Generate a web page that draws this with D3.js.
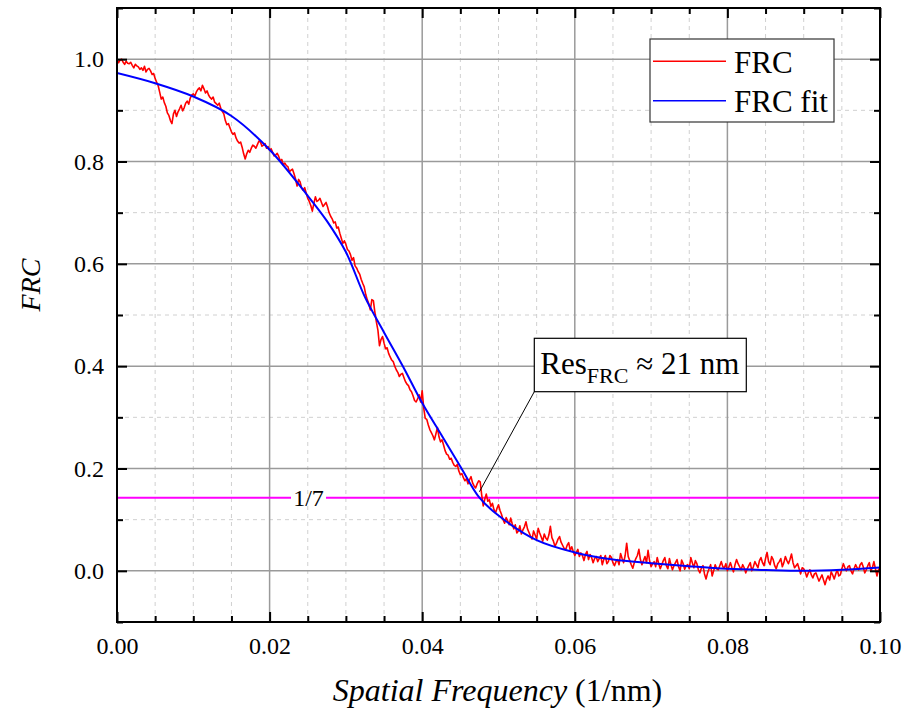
<!DOCTYPE html>
<html>
<head>
<meta charset="utf-8">
<script src="https://cdn.jsdelivr.net/npm/d3@7"></script>
<style>
  html, body { margin: 0; padding: 0; background: #fff; }
  svg { display: block; font-family: "Liberation Serif", "Times New Roman", serif; }
</style>
</head>
<body>
<svg id="chart" width="907" height="713"></svg>
<script>
// Measured FRC curve, sampled every 0.0002 nm^-1 starting at 0
const frcStart = 0;
const frcStep = 0.0002;
const frcValues = [
  1.000, 0.993, 0.998, 1.000, 0.994, 0.990, 0.996, 0.992, 0.991, 0.994,
  0.988, 0.983, 0.990, 0.987, 0.985, 0.980, 0.983, 0.978, 0.986, 0.975,
  0.980, 0.982, 0.977, 0.970, 0.972, 0.962, 0.955, 0.948, 0.935, 0.922,
  0.926, 0.915, 0.908, 0.895, 0.890, 0.880, 0.874, 0.893, 0.900, 0.888,
  0.897, 0.903, 0.910, 0.899, 0.905, 0.914, 0.918, 0.912, 0.924, 0.930,
  0.932, 0.928, 0.936, 0.941, 0.944, 0.938, 0.949, 0.942, 0.934, 0.938,
  0.930, 0.925, 0.922, 0.926, 0.916, 0.913, 0.910, 0.914, 0.904, 0.898,
  0.893, 0.880, 0.872, 0.874, 0.866, 0.858, 0.853, 0.856, 0.846, 0.840,
  0.836, 0.838, 0.828, 0.815, 0.805, 0.815, 0.822, 0.818, 0.826, 0.832,
  0.830, 0.826, 0.833, 0.840, 0.838, 0.830, 0.832, 0.835, 0.826, 0.829,
  0.822, 0.825, 0.818, 0.811, 0.813, 0.816, 0.810, 0.801, 0.804, 0.793,
  0.797, 0.792, 0.790, 0.780, 0.783, 0.785, 0.776, 0.766, 0.752, 0.765,
  0.760, 0.748, 0.744, 0.749, 0.738, 0.728, 0.722, 0.714, 0.703, 0.718,
  0.731, 0.722, 0.724, 0.728, 0.720, 0.712, 0.716, 0.720, 0.711, 0.700,
  0.693, 0.688, 0.680, 0.682, 0.670, 0.672, 0.660, 0.650, 0.640, 0.645,
  0.638, 0.628, 0.625, 0.618, 0.607, 0.612, 0.596, 0.592, 0.585, 0.580,
  0.570, 0.562, 0.555, 0.540, 0.530, 0.522, 0.510, 0.530, 0.528, 0.505,
  0.486, 0.470, 0.440, 0.452, 0.458, 0.445, 0.434, 0.436, 0.425, 0.418,
  0.412, 0.409, 0.400, 0.393, 0.388, 0.380, 0.384, 0.386, 0.378, 0.370,
  0.365, 0.362, 0.354, 0.350, 0.342, 0.333, 0.330, 0.336, 0.344, 0.330,
  0.352, 0.318, 0.298, 0.296, 0.285, 0.276, 0.270, 0.264, 0.256, 0.268,
  0.280, 0.262, 0.252, 0.256, 0.246, 0.235, 0.228, 0.226, 0.218, 0.220,
  0.212, 0.206, 0.204, 0.208, 0.195, 0.188, 0.190, 0.182, 0.176, 0.180,
  0.170, 0.178, 0.184, 0.172, 0.166, 0.162, 0.170, 0.176, 0.174, 0.148,
  0.127, 0.140, 0.150, 0.136, 0.139, 0.126, 0.132, 0.120, 0.113, 0.122,
  0.129, 0.118, 0.110, 0.100, 0.093, 0.104, 0.098, 0.090, 0.103, 0.092,
  0.082, 0.090, 0.074, 0.078, 0.088, 0.072, 0.080, 0.086, 0.096, 0.082,
  0.075, 0.068, 0.062, 0.078, 0.070, 0.062, 0.083, 0.074, 0.066, 0.058,
  0.072, 0.064, 0.060, 0.070, 0.087, 0.065, 0.058, 0.048, 0.054, 0.062,
  0.067, 0.056, 0.050, 0.044, 0.041, 0.050, 0.055, 0.040, 0.047, 0.038,
  0.030, 0.036, 0.042, 0.028, 0.035, 0.030, 0.020, 0.032, 0.038, 0.022,
  0.032, 0.026, 0.016, 0.024, 0.028, 0.018, 0.024, 0.030, 0.012, 0.022,
  0.030, 0.014, 0.018, 0.030, 0.026, 0.016, 0.010, 0.018, 0.022, 0.012,
  0.034, 0.024, 0.016, 0.030, 0.054, 0.028, 0.020, 0.012, 0.005, 0.016,
  0.024, 0.030, 0.042, 0.022, 0.012, 0.020, 0.028, 0.016, 0.040, 0.020,
  0.008, 0.014, 0.018, 0.008, 0.026, 0.014, 0.004, 0.012, 0.020, 0.026,
  0.010, 0.004, 0.024, 0.012, 0.002, 0.010, 0.016, 0.022, 0.008, 0.000,
  0.021, 0.014, 0.003, 0.010, 0.012, 0.004, 0.026, 0.016, 0.006, 0.020,
  0.014, 0.002, -0.004, 0.006, 0.010, -0.006, -0.016, -0.004, 0.004, 0.012,
  -0.010, 0.000, 0.012, 0.004, 0.002, 0.010, 0.018, 0.008, 0.006, 0.014,
  0.000, 0.008, 0.016, 0.006, -0.002, 0.012, 0.022, 0.014, 0.008, 0.002,
  0.012, 0.006, -0.004, 0.004, 0.010, 0.016, 0.000, 0.008, 0.018, 0.012,
  0.006, 0.020, 0.026, 0.016, 0.010, 0.024, 0.036, 0.018, 0.012, 0.028,
  0.022, 0.010, 0.004, 0.014, 0.018, 0.024, 0.008, 0.016, 0.028, 0.020,
  0.014, 0.022, 0.033, 0.016, 0.006, 0.010, 0.014, 0.004, -0.006, 0.006,
  0.004, -0.002, -0.012, -0.004, 0.002, -0.008, -0.014, -0.006, -0.004, -0.012,
  -0.020, -0.014, -0.008, -0.018, -0.027, -0.016, -0.010, -0.018, -0.002, -0.008,
  -0.016, -0.006, 0.002, -0.010, -0.008, 0.004, 0.014, 0.006, 0.000, 0.008,
  0.010, 0.000, -0.006, 0.004, 0.012, 0.006, 0.002, 0.012, 0.016, 0.008,
  -0.004, 0.002, 0.010, 0.016, 0.000, 0.006, 0.018, 0.004, -0.010, 0.002,
  0.006
];

// Fitted FRC curve
const fitFreq = [0.000, 0.005, 0.010, 0.015, 0.020, 0.025, 0.0275, 0.030, 0.0325, 0.035,
                 0.0375, 0.040, 0.0425, 0.045, 0.0475, 0.050, 0.055, 0.060, 0.065, 0.070,
                 0.075, 0.080, 0.085, 0.090, 0.095, 0.100];
const fitValues = [0.973, 0.953, 0.927, 0.889, 0.823, 0.733, 0.684, 0.623, 0.535, 0.466,
                   0.399, 0.328, 0.266, 0.204, 0.143, 0.108, 0.060, 0.036, 0.022, 0.015,
                   0.009, 0.004, 0.0015, 0.000, 0.002, 0.0065];

// Axis ticks
const xMajorTicks = [0.00, 0.02, 0.04, 0.06, 0.08, 0.10];
const xMinorTicks = [0.005, 0.01, 0.015, 0.025, 0.03, 0.035, 0.045, 0.05, 0.055,
                     0.065, 0.07, 0.075, 0.085, 0.09, 0.095];
const yMajorTicks = [0.0, 0.2, 0.4, 0.6, 0.8, 1.0];
const yMinorTicks = [-0.1, 0.1, 0.3, 0.5, 0.7, 0.9, 1.1];

// Threshold and resolution annotation
const threshold = 1 / 7;
const thresholdLabel = "1/7";
const resolutionFreq = 0.0475;
const seriesNames = ["FRC", "FRC fit"];
const seriesColors = ["#ff0000", "#0000ff"];

const svg = d3.select("#chart");
const margin = { left: 117, right: 27, top: 8, bottom: 91 };
const W = 907, H = 713;
const x = d3.scaleLinear().domain([0, 0.1]).range([margin.left, W - margin.right]);
const y = d3.scaleLinear().domain([-0.1, 1.1]).range([H - margin.bottom, margin.top]);

const x0 = x.range()[0], x1 = x.range()[1];
const y0 = y.range()[0], y1 = y.range()[1];

// Grid
const grid = svg.append("g");
grid.selectAll(".xminor").data(xMinorTicks).enter().append("line")
  .attr("x1", d => x(d)).attr("x2", d => x(d)).attr("y1", y0).attr("y2", y1)
  .attr("stroke", "#d0d0d0").attr("stroke-width", 1).attr("stroke-dasharray", "4,4");
grid.selectAll(".yminor").data(yMinorTicks.filter(v => v > -0.1 && v < 1.1)).enter().append("line")
  .attr("y1", d => y(d)).attr("y2", d => y(d)).attr("x1", x0).attr("x2", x1)
  .attr("stroke", "#d0d0d0").attr("stroke-width", 1).attr("stroke-dasharray", "4,4");
grid.selectAll(".xmajor").data(xMajorTicks.filter(v => v > 0 && v < 0.1)).enter().append("line")
  .attr("x1", d => x(d)).attr("x2", d => x(d)).attr("y1", y0).attr("y2", y1)
  .attr("stroke", "#9a9a9a").attr("stroke-width", 1.5);
grid.selectAll(".ymajor").data(yMajorTicks).enter().append("line")
  .attr("y1", d => y(d)).attr("y2", d => y(d)).attr("x1", x0).attr("x2", x1)
  .attr("stroke", "#9a9a9a").attr("stroke-width", 1.5);

// Clip region for data
svg.append("clipPath").attr("id", "plotclip").append("rect")
  .attr("x", x0).attr("y", y1).attr("width", x1 - x0).attr("height", y0 - y1);

// Threshold line with gap for its label
const labelX = x(0.0251);
const gapHalf = 17.5;
svg.append("line").attr("x1", x0).attr("x2", labelX - gapHalf)
  .attr("y1", y(threshold)).attr("y2", y(threshold))
  .attr("stroke", "#ff00ff").attr("stroke-width", 2);
svg.append("line").attr("x1", labelX + gapHalf).attr("x2", x1)
  .attr("y1", y(threshold)).attr("y2", y(threshold))
  .attr("stroke", "#ff00ff").attr("stroke-width", 2);
svg.append("text").attr("x", labelX).attr("y", y(threshold) + 8)
  .attr("text-anchor", "middle").attr("font-size", 24).text(thresholdLabel);

// Data curves
const frcData = frcValues.map((v, i) => [frcStart + i * frcStep, v]);
const fitData = fitFreq.map((f, i) => [f, fitValues[i]]);
const plot = svg.append("g").attr("clip-path", "url(#plotclip)");
plot.append("path").datum(frcData)
  .attr("d", d3.line().x(d => x(d[0])).y(d => y(d[1])))
  .attr("fill", "none").attr("stroke", seriesColors[0]).attr("stroke-width", 1.6)
  .attr("stroke-linejoin", "round");
plot.append("path").datum(fitData)
  .attr("d", d3.line().x(d => x(d[0])).y(d => y(d[1])).curve(d3.curveCatmullRom))
  .attr("fill", "none").attr("stroke", seriesColors[1]).attr("stroke-width", 2);

// Axes: ticks point inward on all four sides
const axisStyle = g => {
  g.select(".domain").remove();
  g.selectAll("line").attr("stroke", "#000").attr("stroke-width", 2);
  g.selectAll("text").attr("font-size", 24).attr("fill", "#000")
    .attr("font-family", "\"Liberation Serif\", \"Times New Roman\", serif");
};
svg.append("g").attr("transform", `translate(0,${y0})`)
  .call(d3.axisBottom(x).tickValues(xMajorTicks).tickSize(-10).tickPadding(15).tickFormat(d3.format(".2f")))
  .call(axisStyle);
svg.append("g").attr("transform", `translate(0,${y0})`)
  .call(d3.axisBottom(x).tickValues(xMinorTicks).tickSize(-6).tickFormat(""))
  .call(axisStyle);
svg.append("g").attr("transform", `translate(0,${y1})`)
  .call(d3.axisTop(x).tickValues(xMajorTicks).tickSize(-10).tickFormat(""))
  .call(axisStyle);
svg.append("g").attr("transform", `translate(0,${y1})`)
  .call(d3.axisTop(x).tickValues(xMinorTicks).tickSize(-6).tickFormat(""))
  .call(axisStyle);
svg.append("g").attr("transform", `translate(${x0},0)`)
  .call(d3.axisLeft(y).tickValues(yMajorTicks).tickSize(-10).tickPadding(13).tickFormat(d3.format(".1f")))
  .call(axisStyle);
svg.append("g").attr("transform", `translate(${x0},0)`)
  .call(d3.axisLeft(y).tickValues(yMinorTicks).tickSize(-6).tickFormat(""))
  .call(axisStyle);
svg.append("g").attr("transform", `translate(${x1},0)`)
  .call(d3.axisRight(y).tickValues(yMajorTicks).tickSize(-10).tickFormat(""))
  .call(axisStyle);
svg.append("g").attr("transform", `translate(${x1},0)`)
  .call(d3.axisRight(y).tickValues(yMinorTicks).tickSize(-6).tickFormat(""))
  .call(axisStyle);

// Frame
svg.append("rect").attr("x", x0).attr("y", y1).attr("width", x1 - x0).attr("height", y0 - y1)
  .attr("fill", "none").attr("stroke", "#000").attr("stroke-width", 2);

// Axis titles
const xt = svg.append("text").attr("x", (x0 + x1) / 2 - 1).attr("y", 701)
  .attr("text-anchor", "middle").attr("font-size", 32);
xt.append("tspan").attr("font-style", "italic").text("Spatial Frequency");
xt.append("tspan").text(" (1/nm)");
svg.append("text").attr("transform", "translate(40,285) rotate(-90)")
  .attr("text-anchor", "middle").attr("font-size", 28).attr("font-style", "italic").text("FRC");

// Legend
const lg = svg.append("g");
lg.append("rect").attr("x", 650).attr("y", 39).attr("width", 184).attr("height", 83)
  .attr("fill", "#fff").attr("stroke", "#333").attr("stroke-width", 1.2);
seriesNames.forEach((name, i) => {
  const ly = 61.3 + i * 39.4;
  lg.append("line").attr("x1", 653).attr("x2", 726).attr("y1", ly).attr("y2", ly)
    .attr("stroke", seriesColors[i]).attr("stroke-width", 1.6);
  lg.append("text").attr("x", 734).attr("y", ly + 11.3).attr("font-size", 31).text(name);
});

// Resolution annotation
const bx = 534.3, by = 338.3, bw = 212, bh = 53.4;
svg.append("line").attr("x1", bx).attr("y1", by + bh)
  .attr("x2", x(resolutionFreq)).attr("y2", y(threshold) - 6)
  .attr("stroke", "#000").attr("stroke-width", 1);
svg.append("rect").attr("x", bx).attr("y", by).attr("width", bw).attr("height", bh)
  .attr("fill", "#fff").attr("stroke", "#000").attr("stroke-width", 1.2);
const at = svg.append("text").attr("x", bx + 6).attr("y", 374.3).attr("font-size", 31);
at.append("tspan").text("Res");
at.append("tspan").attr("font-size", 22).attr("dy", 8.4).text("FRC");
at.append("tspan").attr("dy", -8.4).text(" \u2248 21 nm");
</script>
</body>
</html>
